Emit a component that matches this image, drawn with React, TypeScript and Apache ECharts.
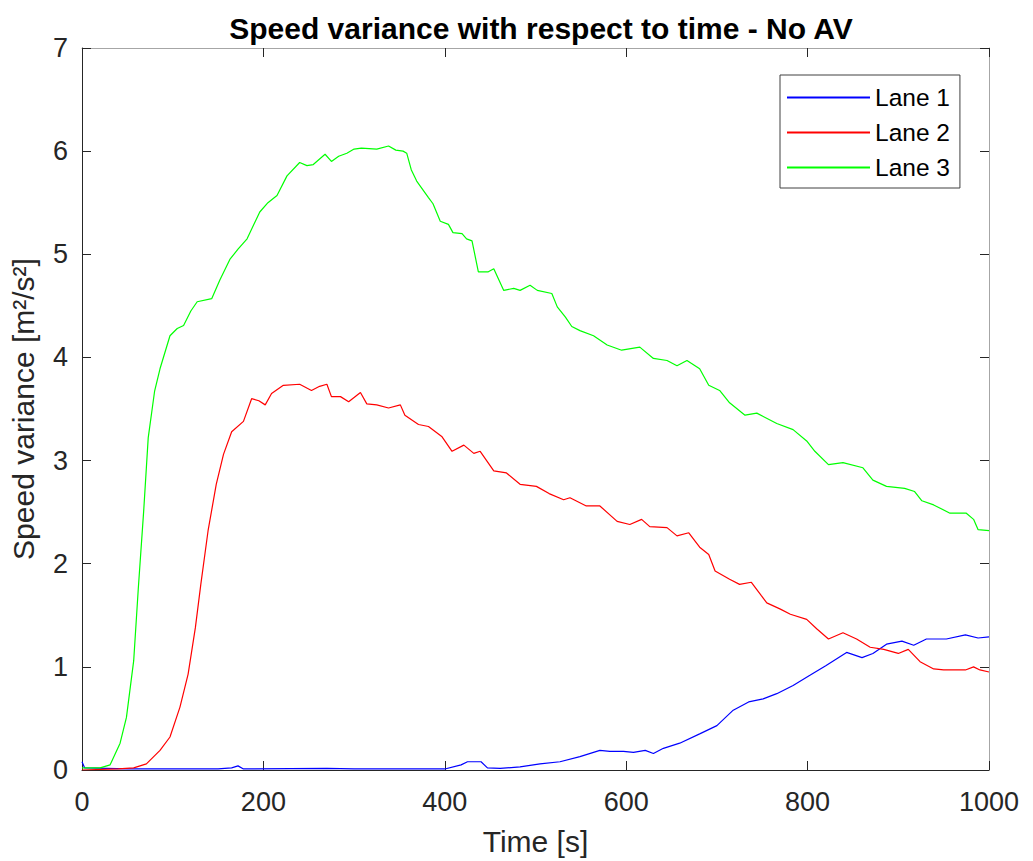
import React, { useEffect, useRef } from "react";
import * as echarts from "echarts";

const xTicks = [0, 200, 400, 600, 800, 1000];
const yTicks = [0, 1, 2, 3, 4, 5, 6, 7];

const lane1Time = [0, 3, 50, 150, 165, 172, 178, 270, 300, 400, 418, 425, 440, 447, 461, 483, 505, 527, 549, 571, 582, 597, 608, 621, 630, 641, 659, 681, 700, 718, 735, 751, 766, 784, 803, 820, 843, 860, 872, 887, 904, 917, 931, 953, 974, 988, 1000];
const lane1Var = [0.08, 0.02, 0.01, 0.01, 0.02, 0.04, 0.01, 0.015, 0.01, 0.01, 0.05, 0.08, 0.08, 0.02, 0.015, 0.03, 0.06, 0.08, 0.13, 0.19, 0.18, 0.18, 0.17, 0.19, 0.16, 0.21, 0.26, 0.35, 0.43, 0.58, 0.66, 0.69, 0.74, 0.82, 0.92, 1.01, 1.14, 1.09, 1.13, 1.22, 1.25, 1.21, 1.27, 1.27, 1.31, 1.28, 1.29];

const lane2Time = [0, 40, 57, 71, 86, 97, 108, 117, 125, 131, 139, 148, 156, 165, 178, 187, 195, 202, 209, 222, 240, 253, 262, 270, 275, 285, 294, 307, 314, 325, 338, 351, 356, 371, 382, 397, 408, 421, 432, 439, 454, 468, 483, 501, 515, 531, 538, 556, 571, 590, 604, 617, 626, 645, 656, 669, 681, 691, 698, 714, 725, 738, 749, 755, 770, 781, 799, 810, 823, 839, 854, 869, 884, 900, 911, 924, 939, 950, 974, 983, 990, 1000];
const lane2Var = [0.0, 0.01, 0.02, 0.06, 0.19, 0.32, 0.61, 0.93, 1.38, 1.8, 2.32, 2.77, 3.06, 3.28, 3.38, 3.6, 3.58, 3.54, 3.65, 3.73, 3.74, 3.68, 3.72, 3.74, 3.62, 3.62, 3.57, 3.66, 3.55, 3.54, 3.51, 3.54, 3.44, 3.35, 3.33, 3.23, 3.09, 3.15, 3.07, 3.09, 2.9, 2.88, 2.77, 2.75, 2.68, 2.62, 2.64, 2.56, 2.56, 2.41, 2.38, 2.43, 2.36, 2.35, 2.27, 2.3, 2.16, 2.09, 1.93, 1.85, 1.8, 1.82, 1.69, 1.62, 1.56, 1.51, 1.46, 1.37, 1.27, 1.33, 1.27, 1.19, 1.17, 1.13, 1.17, 1.05, 0.98, 0.97, 0.97, 1.0, 0.97, 0.95];

const lane3Time = [0, 20, 31, 42, 49, 57, 62, 68, 73, 80, 86, 97, 105, 112, 120, 127, 143, 152, 163, 172, 182, 196, 205, 215, 226, 240, 248, 255, 268, 275, 283, 292, 300, 308, 325, 338, 346, 354, 358, 363, 369, 382, 387, 395, 404, 409, 419, 424, 430, 437, 448, 454, 465, 476, 483, 494, 502, 518, 524, 533, 540, 549, 564, 579, 595, 615, 630, 645, 656, 667, 681, 691, 703, 714, 731, 744, 766, 784, 799, 808, 823, 839, 861, 872, 887, 907, 918, 926, 939, 957, 975, 983, 988, 1000];
const lane3Var = [0.02, 0.02, 0.05, 0.26, 0.51, 1.06, 1.75, 2.51, 3.22, 3.67, 3.89, 4.21, 4.28, 4.31, 4.45, 4.54, 4.57, 4.75, 4.95, 5.05, 5.15, 5.41, 5.5, 5.57, 5.76, 5.89, 5.86, 5.87, 5.97, 5.9, 5.95, 5.98, 6.02, 6.03, 6.02, 6.05, 6.01, 6.0, 5.98, 5.82, 5.71, 5.55, 5.49, 5.32, 5.29, 5.21, 5.2, 5.15, 5.13, 4.83, 4.83, 4.86, 4.65, 4.67, 4.65, 4.7, 4.65, 4.62, 4.49, 4.39, 4.3, 4.26, 4.21, 4.12, 4.07, 4.1, 3.99, 3.97, 3.92, 3.97, 3.89, 3.73, 3.68, 3.56, 3.44, 3.46, 3.36, 3.3, 3.19, 3.09, 2.96, 2.98, 2.93, 2.81, 2.75, 2.73, 2.7, 2.61, 2.57, 2.49, 2.49, 2.43, 2.33, 2.32];

const seriesNames = ["Lane 1", "Lane 2", "Lane 3"];
const seriesColors = ["#0000ff", "#ff0000", "#00ff00"];

const zip = (t: number[], v: number[]) => t.map((x, i) => [x, v[i]]);

export default function App() {
  const ref = useRef<HTMLDivElement>(null);
  useEffect(() => {
    if (!ref.current) return;
    const chart = echarts.init(ref.current, undefined, { renderer: "svg" });
    const font = "'Liberation Sans', Arial, Helvetica, sans-serif";
    const axisCol = "#262626";
    const boxCol = "#a6a6a6";
    const baseX = {
      type: "value",
      min: xTicks[0],
      max: xTicks[xTicks.length - 1],
      interval: xTicks[1] - xTicks[0],
      splitLine: { show: false },
      axisTick: { show: true, inside: true, length: 9, lineStyle: { color: axisCol } },
    };
    const baseY = {
      type: "value",
      min: yTicks[0],
      max: yTicks[yTicks.length - 1],
      interval: yTicks[1] - yTicks[0],
      splitLine: { show: false },
      axisTick: { show: true, inside: true, length: 9, lineStyle: { color: axisCol } },
    };
    const data = [zip(lane1Time, lane1Var), zip(lane2Time, lane2Var), zip(lane3Time, lane3Var)];
    chart.setOption({
      animation: false,
      backgroundColor: "#ffffff",
      textStyle: { fontFamily: font },
      title: {
        text: "Speed variance with respect to time - No AV",
        left: 536,
        top: 8,
        textAlign: "center",
        textStyle: { fontFamily: font, fontSize: 30, fontWeight: "bold", color: "#000000" },
      },
      grid: { left: 82, right: 44, top: 48, bottom: 88 },
      legend: {
        orient: "vertical",
        left: 780,
        top: 75,
        padding: [10, 10, 8, 7],
        itemGap: 10,
        itemWidth: 83,
        itemHeight: 2,
        icon: "rect",
        borderColor: "#404040",
        borderWidth: 1,
        backgroundColor: "#ffffff",
        data: seriesNames,
        textStyle: { fontFamily: font, fontSize: 24.5, color: "#000000" },
      },
      xAxis: [
        {
          ...baseX,
          position: "bottom",
          axisLine: { show: true, onZero: false, lineStyle: { color: axisCol, width: 1 } },
          name: "Time [s]",
          nameLocation: "middle",
          nameGap: 56,
          nameTextStyle: { fontFamily: font, fontSize: 30, color: axisCol },
          axisLabel: {
            show: true,
            margin: 18,
            fontFamily: font,
            fontSize: 27,
            color: axisCol,
            formatter: (v: number) => String(v),
          },
        },
        {
          ...baseX,
          position: "top",
          axisLine: { show: true, onZero: false, lineStyle: { color: boxCol, width: 1 } },
          axisLabel: { show: false },
        },
      ],
      yAxis: [
        {
          ...baseY,
          position: "left",
          axisLine: { show: true, onZero: false, lineStyle: { color: axisCol, width: 1 } },
          name: "Speed variance [m²/s²]",
          nameLocation: "middle",
          nameGap: 44,
          nameTextStyle: { fontFamily: font, fontSize: 30, color: axisCol },
          axisLabel: { show: true, margin: 14, fontFamily: font, fontSize: 27, color: axisCol },
        },
        {
          ...baseY,
          position: "right",
          axisLine: { show: true, onZero: false, lineStyle: { color: boxCol, width: 1 } },
          axisLabel: { show: false },
        },
      ],
      series: seriesNames.map((name, i) => ({
        name,
        type: "line",
        xAxisIndex: 0,
        yAxisIndex: 0,
        data: data[i],
        showSymbol: false,
        symbol: "none",
        color: seriesColors[i],
        lineStyle: { color: seriesColors[i], width: 1.2 },
        itemStyle: { color: seriesColors[i] },
      })),
    });
    return () => chart.dispose();
  }, []);
  return (
    <div
      ref={ref}
      style={{ position: "absolute", left: 0, top: 0, width: 1033, height: 861 }}
    />
  );
}
